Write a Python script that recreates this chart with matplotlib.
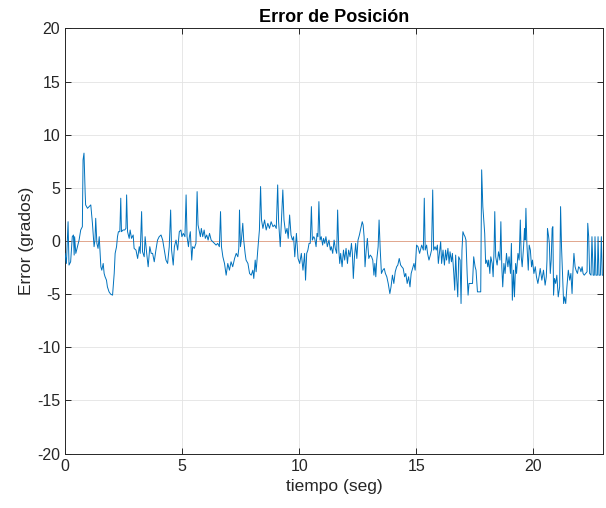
import matplotlib
matplotlib.use("Agg")
import matplotlib.pyplot as plt
import numpy as np

# position error signal (seconds, degrees)
t1 = [0, 0.06, 0.13, 0.17, 0.24, 0.31, 0.36, 0.39, 0.41, 0.46, 0.53, 0.60, 0.67, 0.74, 0.77, 0.81, 0.86, 0.88, 0.96, 1.03,
      1.10, 1.17, 1.24, 1.28, 1.31, 1.36, 1.41, 1.46, 1.50, 1.53, 1.57, 1.63, 1.67, 1.71, 1.77, 1.81, 1.88, 1.95, 2.03, 2.10,
      2.14, 2.20, 2.24, 2.28, 2.34, 2.38, 2.41, 2.48, 2.55, 2.60, 2.63, 2.67, 2.74, 2.78, 2.84, 2.91, 2.95, 3.03, 3.10, 3.17,
      3.21, 3.27, 3.31, 3.38, 3.42, 3.48, 3.55, 3.62, 3.68, 3.74, 3.81, 3.88, 3.95, 4.02, 4.10, 4.17, 4.24, 4.31, 4.38, 4.45,
      4.51, 4.55, 4.62, 4.67, 4.74, 4.81, 4.88, 4.95, 4.99]
e1 = [-1.16, -2.11, 1.82, -2.26, -1.95, 0.41, 0.57, -1.32, 0.41, -1.16, -0.53, 0.09, 1.04, 1.35, 7.64, 8.27, 4.50, 3.40, 3.08, 3.24,
      3.40, 1.67, -0.53, 0.09, 2.14, -0.22, -0.69, 0.41, -1.16, -2.42, -2.74, -2.11, -3.05, -3.36, -3.68, -4.31, -4.78, -5.00, -5.09, -3.05,
      -1.16, -0.53, 0.41, 0.88, 0.88, 4.03, 0.88, 1.04, 1.04, 1.19, 4.34, 0.88, 0.25, 1.04, 0.25, 0.57, -0.69, -0.85, -1.64, -0.53,
      -1.16, 2.77, -1.01, -1.48, 0.41, -1.01, -2.42, -0.53, -1.16, -1.16, -1.95, -0.85, 0.09, 0.41, 0.57, 0.09, -0.85, -1.79, -2.11, -0.53,
      2.92, -0.85, -2.26, -0.53, 0.09, -0.85, 0.88, 1.04, 0.41]

t2 = [5.05, 5.12, 5.17, 5.21, 5.27, 5.31, 5.35, 5.41, 5.45, 5.52, 5.59, 5.64, 5.68, 5.74, 5.78, 5.82, 5.88, 5.94, 5.99, 6.05,
      6.11, 6.17, 6.24, 6.31, 6.38, 6.45, 6.52, 6.59, 6.64, 6.68, 6.74, 6.81, 6.88, 6.95, 7.02, 7.09, 7.16, 7.24, 7.31, 7.38,
      7.42, 7.45, 7.49, 7.53, 7.59, 7.63, 7.69, 7.73, 7.81, 7.88, 7.95, 8.02, 8.06, 8.12, 8.16, 8.23, 8.30, 8.35, 8.39, 8.45,
      8.52, 8.59, 8.66, 8.73, 8.80, 8.88, 8.95, 9.02, 9.08, 9.12, 9.19, 9.25, 9.30, 9.35, 9.42, 9.48, 9.53, 9.59, 9.65, 9.71,
      9.76, 9.81, 9.88, 9.95, 10.02, 10.09, 10.16, 10.23]
e2 = [0.72, 0.41, 4.34, 0.41, -0.53, 0.41, 0.88, -1.79, -0.53, -0.69, -0.22, 4.65, 1.51, 0.88, 0.41, 1.19, 0.41, 1.04, 0.25, 0.57,
      0.09, 0.72, 0.09, -0.06, -0.22, -0.38, -0.22, -0.53, 2.77, -0.53, -1.48, -2.11, -3.21, -2.11, -2.74, -1.95, -2.42, -1.64, -1.16, -1.48,
      -0.69, 2.92, -0.53, 0.09, 1.67, 0.09, -1.16, -1.79, -2.11, -3.05, -3.21, -2.74, -3.52, -1.79, -2.89, -0.85, 1.04, 5.13, 1.98, 1.19,
      1.98, 1.04, 1.67, 1.19, 1.82, 1.35, 1.51, 1.19, 5.28, 1.82, -0.53, 2.45, 4.81, 1.98, 0.72, 1.19, 0.25, 2.45, 0.57, 0.09,
      0.41, -1.48, 0.72, -1.64, -2.11, -1.16, -2.74, -1.16]

t3 = [10.27, 10.32, 10.37, 10.42, 10.47, 10.52, 10.56, 10.62, 10.66, 10.72, 10.76, 10.80, 10.84, 10.89, 10.94, 11.00, 11.04, 11.09, 11.14, 11.20,
      11.27, 11.33, 11.37, 11.43, 11.49, 11.54, 11.60, 11.64, 11.69, 11.73, 11.77, 11.83, 11.89, 11.94, 12.00, 12.06, 12.11, 12.17, 12.23, 12.27,
      12.31, 12.36, 12.41, 12.46, 12.51, 12.57, 12.63, 12.69, 12.73, 12.77, 12.81, 12.86, 12.91, 12.97, 13.03, 13.09, 13.14, 13.19, 13.23, 13.27,
      13.31, 13.37, 13.41, 13.46, 13.51, 13.57, 13.63, 13.68, 13.74, 13.80, 13.87, 13.92, 13.98, 14.04, 14.10, 14.16, 14.21, 14.27, 14.33, 14.38,
      14.44, 14.50, 14.55, 14.61, 14.67, 14.73, 14.78, 14.84, 14.90, 14.95, 15.01, 15.07, 15.14]
e3 = [-3.68, -1.16, -0.85, -0.22, -0.22, 3.24, 0.09, 0.41, 0.25, -0.53, 0.72, 0.41, 3.71, 0.09, 0.41, -0.38, 0.25, -0.22, 0.41, -0.53,
      0.09, -0.85, -0.53, -1.16, 0.09, -0.69, -1.16, 2.92, -0.85, -2.11, -1.16, -2.42, -0.85, -1.79, -0.69, -2.11, -0.85, -1.48, -0.22, -1.16,
      -3.52, -1.48, -0.22, -1.64, 0.09, 0.57, 1.19, 1.82, 1.51, 0.41, -2.42, -0.85, 0.25, -1.64, -1.32, -1.48, -1.79, -3.21, -2.11, -3.36,
      -1.79, -0.53, 1.98, -0.85, -3.05, -2.74, -2.58, -3.05, -3.36, -3.99, -4.94, -4.31, -3.21, -3.99, -2.89, -2.42, -2.26, -1.64, -2.26, -2.42,
      -2.58, -3.36, -3.05, -3.99, -3.36, -4.31, -3.05, -2.58, -2.11, -2.74, -0.38, -0.53, -1.16]

t4 = [15.23, 15.30, 15.34, 15.38, 15.44, 15.48, 15.54, 15.60, 15.65, 15.70, 15.74, 15.80, 15.85, 15.90, 15.94, 16.00, 16.04, 16.08, 16.14, 16.20,
      16.25, 16.29, 16.35, 16.40, 16.44, 16.50, 16.54, 16.60, 16.64, 16.68, 16.72, 16.77, 16.81, 16.87, 16.91, 16.95, 16.99, 17.04, 17.08, 17.12,
      17.17, 17.21, 17.25, 17.32, 17.40, 17.45, 17.51, 17.55, 17.61, 17.68, 17.75, 17.79, 17.84, 17.88, 17.92, 17.96, 18.01, 18.05, 18.09, 18.14,
      18.18, 18.24, 18.28, 18.32, 18.35, 18.39, 18.45, 18.51, 18.57, 18.61, 18.65, 18.69, 18.74, 18.79, 18.85, 18.91, 18.96, 19.02, 19.06, 19.10,
      19.15, 19.19, 19.24, 19.28, 19.34, 19.39, 19.44, 19.48, 19.52, 19.58, 19.62, 19.65, 19.68, 19.72, 19.78, 19.82, 19.87, 19.92, 19.96, 20.02,
      20.08, 20.13, 20.19, 20.25]
e4 = [-0.38, -0.85, 4.03, -0.85, -0.38, -1.16, -1.79, -1.32, -0.85, 4.81, -0.85, -0.53, -0.85, -0.38, -2.11, -0.85, -0.06, -2.11, -0.85, -2.26,
      -0.85, -1.79, -0.69, -2.11, -1.01, -1.95, -1.16, -3.05, -4.62, -1.32, -3.36, -5.25, -1.48, -1.79, -5.88, -0.85, 0.88, 0.57, 0.41, 0.09,
      -3.05, -5.09, -3.99, -3.99, -3.99, -1.48, -2.42, -2.74, -4.78, -4.78, -4.78, 6.70, 3.24, 1.98, 0.72, -2.11, -1.79, -2.42, -1.79, -3.05,
      -1.48, -2.11, -3.36, -0.85, 2.77, -1.48, -2.26, -1.01, -1.79, 1.82, -2.42, -4.31, -2.11, -3.05, -1.16, -2.42, -1.48, -3.05, -0.22, -5.57,
      -2.74, -5.25, -2.11, -3.05, -1.16, -1.79, 1.98, -1.48, -2.42, -0.53, 1.19, 0.09, 3.08, -0.22, -2.74, -0.38, -0.85, -2.42, -1.79, -3.05,
      -2.42, -3.36, -3.99, -3.21]

t5 = [20.29, 20.36, 20.43, 20.50, 20.55, 20.58, 20.60, 20.65, 20.68, 20.72, 20.76, 20.80, 20.83, 20.86, 20.90, 20.95, 21.00, 21.06, 21.12, 21.16,
      21.20, 21.25, 21.29, 21.33, 21.38, 21.43, 21.49, 21.55, 21.60, 21.65, 21.69, 21.73, 21.78, 21.82, 21.88, 21.93, 21.99, 22.03, 22.08, 22.12,
      22.17, 22.23, 22.29, 22.32, 22.36, 22.40, 22.46, 22.50, 22.55, 22.60, 22.63, 22.67, 22.73, 22.76, 22.80, 22.86, 22.90, 22.94, 23.00, 23.03]
e5 = [-2.58, -3.68, -2.74, -4.15, -3.36, -1.79, 1.19, 0.41, -0.22, -3.05, -1.79, 1.19, 1.35, -5.09, -3.52, -3.99, -3.21, -5.25, -4.31, 3.24,
      -0.53, -3.36, -5.88, -5.25, -5.88, -4.31, -2.74, -3.68, -3.05, -4.94, -2.74, -1.16, -2.42, -2.74, -3.05, -2.42, -2.58, -2.89, -2.42, -3.05,
      -3.21, -3.05, -2.89, 1.67, 0.41, -3.05, -3.21, 0.41, -3.21, -3.21, 0.41, -3.21, -3.21, 0.41, -3.21, -3.21, 0.41, -3.21, -3.21, -2.11]

tiempo = np.array(t1 + t2 + t3 + t4 + t5)
error = np.array(e1 + e2 + e3 + e4 + e5)

plt.rcParams['font.family'] = ['Liberation Sans', 'DejaVu Sans']
plt.rcParams['axes.unicode_minus'] = False

fig = plt.figure(figsize=(6.06, 5.08), dpi=100)
ax = fig.add_axes([0.1073, 0.107, 0.8877, 0.837])

ax.axhline(0, color='#D95319', linewidth=0.5, alpha=0.6, zorder=2)
ax.plot(tiempo, error, color='#0072BD', linewidth=0.7, zorder=3)

ax.set_xlim(0, 22.97)
ax.set_ylim(-20, 20)
ax.set_xticks([0, 5, 10, 15, 20])
ax.set_yticks(np.arange(-20, 21, 5))
ax.grid(True, color='#e3e3e3', linewidth=0.6)
ax.set_axisbelow(True)
for s in ax.spines.values():
    s.set_color('#262626')
    s.set_linewidth(0.7)
ax.tick_params(direction='in', length=4, width=0.7, colors='#262626', labelsize=11.5,
               top=True, right=True)

ax.set_title("Error de Posición", fontsize=13, fontweight='bold', pad=5)
ax.set_xlabel("tiempo (seg)", fontsize=12.5, color='#262626', labelpad=4)
ax.set_ylabel("Error (grados)", fontsize=12.5, color='#262626', labelpad=2)

fig.savefig("out.png", dpi=100)
